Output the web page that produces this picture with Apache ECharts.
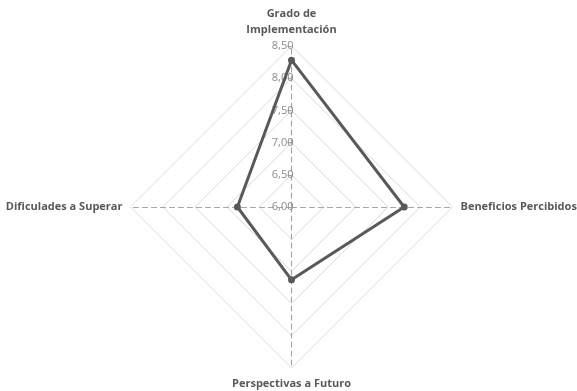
<!DOCTYPE html>
<html><head><meta charset="utf-8">
<script src="https://cdn.jsdelivr.net/npm/echarts@6/dist/echarts.min.js"></script>
<style>html,body{margin:0;padding:0;background:#fff}#c{width:577px;height:391px}</style>
</head><body><div id="c"></div>
<script>
// listed counter-clockwise from the top (ECharts radar draws indicators counter-clockwise)
const categories = ['Grado de\nImplementación', 'Dificulades a Superar', 'Perspectivas a Futuro', 'Beneficios Percibidos'];
const values = [8.28, 6.84, 7.13, 7.75];
const axisMin = 6.0, axisMax = 8.5, splitCount = 5;

const fmt = v => v.toFixed(2).replace('.', ',');
const indicators = categories.map((c, i) => {
  const o = { name: c, min: axisMin, max: axisMax };
  if (i === 0) {
    o.axisLabel = { show: true, formatter: fmt, color: '#8c8c8c', fontSize: 11, fontFamily: 'Open Sans', margin: -2 };
    o.axisTick = { show: true, length: 4, lineStyle: { color: '#a6a6a6' } };
  }
  return o;
});
const chart = echarts.init(document.getElementById('c'));
chart.setOption({
  animation: false,
  radar: {
    center: [291.5, 207],
    radius: 161,
    startAngle: 90,
    shape: 'polygon',
    splitNumber: splitCount,
    indicator: indicators,
    nameGap: 8,
    axisName: { color: '#595959', fontWeight: 'bold', fontSize: 11, fontFamily: 'Open Sans', lineHeight: 16 },
    axisLine: { show: true, lineStyle: { color: '#a6a6a6', type: [5, 4], width: 1.2 } },
    axisTick: { show: false },
    axisLabel: { show: false },
    splitLine: { lineStyle: { color: '#d9d9d9', width: 1 } },
    splitArea: { show: false }
  },
  series: [{
    type: 'radar',
    symbol: 'circle',
    symbolSize: 7,
    lineStyle: { color: '#595959', width: 3 },
    itemStyle: { color: '#595959' },
    data: [{ value: values }]
  }]
});
</script></body></html>
